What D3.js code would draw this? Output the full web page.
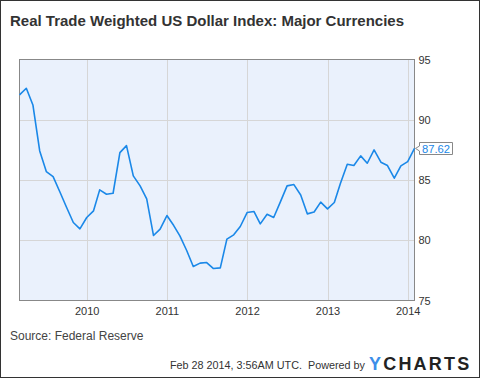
<!DOCTYPE html>
<html><head><meta charset="utf-8">
<script src="https://cdn.jsdelivr.net/npm/d3@7"></script>
<style>
html,body{margin:0;padding:0;background:#fff;}
svg{display:block;}
</style></head>
<body>
<script>
const months = ["2009-03","2009-04","2009-05","2009-06","2009-07","2009-08","2009-09","2009-10","2009-11","2009-12",
"2010-01","2010-02","2010-03","2010-04","2010-05","2010-06","2010-07","2010-08","2010-09","2010-10","2010-11","2010-12",
"2011-01","2011-02","2011-03","2011-04","2011-05","2011-06","2011-07","2011-08","2011-09","2011-10","2011-11","2011-12",
"2012-01","2012-02","2012-03","2012-04","2012-05","2012-06","2012-07","2012-08","2012-09","2012-10","2012-11","2012-12",
"2013-01","2013-02","2013-03","2013-04","2013-05","2013-06","2013-07","2013-08","2013-09","2013-10","2013-11","2013-12",
"2014-01","2014-02"];
const values = [92.06,92.61,91.23,87.41,85.70,85.28,84.00,82.74,81.47,80.95,
81.89,82.44,84.18,83.82,83.90,87.27,87.85,85.34,84.51,83.43,80.39,80.92,
82.05,81.22,80.36,79.15,77.82,78.10,78.15,77.65,77.71,80.09,80.45,81.14,
82.30,82.39,81.36,82.16,81.89,83.21,84.51,84.62,83.76,82.19,82.35,83.16,
82.60,83.13,84.73,86.31,86.20,87.00,86.39,87.50,86.48,86.20,85.15,86.17,
86.53,87.62];
const yTicks = [75,80,85,90,95];
const xTickYears = [2010,2011,2012,2013,2014];
const lastLabel = "87.62";
const title = "Real Trade Weighted US Dollar Index: Major Currencies";
const source = "Source: Federal Reserve";
const stamp = "Feb 28 2014, 3:56AM UTC.  Powered by";

const W=480,H=378;
const L=19.5,R=414.5,T=59.5,B=300.5;
const parse=d3.timeParse("%Y-%m");
const data=months.map((m,i)=>({d:parse(m),v:values[i]}));

const svg=d3.select("body").append("svg").attr("width",W).attr("height",H);
svg.append("rect").attr("x",0.5).attr("y",0.5).attr("width",W-1).attr("height",H-1)
  .attr("fill","#fff").attr("stroke","#333");

const x=d3.scaleTime().domain([data[0].d,data[data.length-1].d]).range([L,R]);
const y=d3.scaleLinear().domain([75,95]).range([B,T]);

svg.append("rect").attr("x",L).attr("y",T).attr("width",R-L).attr("height",B-T).attr("fill","#eaf1fc");

const g=svg.append("g");
g.selectAll(".vg").data(xTickYears).join("line")
  .attr("x1",d=>Math.round(x(new Date(d,0,1)))+0.5).attr("x2",d=>Math.round(x(new Date(d,0,1)))+0.5)
  .attr("y1",T).attr("y2",B).attr("stroke","#d6d6d6");
g.selectAll(".hg").data(yTicks.slice(1,-1)).join("line")
  .attr("x1",L).attr("x2",R).attr("y1",d=>Math.round(y(d))+0.5).attr("y2",d=>Math.round(y(d))+0.5)
  .attr("stroke","#d6d6d6");

svg.append("rect").attr("x",L).attr("y",T).attr("width",R-L).attr("height",B-T)
  .attr("fill","none").attr("stroke","#888");

const line=d3.line().x(d=>x(d.d)).y(d=>y(d.v));
svg.append("path").datum(data).attr("d",line).attr("fill","none")
  .attr("stroke","#1a88e8").attr("stroke-width",1.6).attr("stroke-linejoin","round");

const font="Liberation Sans, Arial, sans-serif";
const yAxis=d3.axisRight(y).tickValues(yTicks).tickSize(0).tickPadding(4).tickFormat(d3.format("d"));
const ya=svg.append("g").attr("transform",`translate(${R},0)`).call(yAxis);
ya.select(".domain").remove();
ya.selectAll("text").attr("font-family",font).attr("font-size",11).attr("fill","#333");

const xAxis=d3.axisBottom(x).tickValues(xTickYears.map(d=>new Date(d,0,1))).tickSize(0).tickPadding(7).tickFormat(d3.timeFormat("%Y"));
const xa=svg.append("g").attr("transform",`translate(0,${B})`).call(xAxis);
xa.select(".domain").remove();
xa.selectAll("text").attr("font-family",font).attr("font-size",11).attr("fill","#333");

const last=data[data.length-1];
const ly=y(last.v);
const bx=419.5, bw=33, bh=12;
svg.append("path")
  .attr("d",`M${bx},${Math.round(ly)-5.5} L${bx+bw},${Math.round(ly)-5.5} L${bx+bw},${Math.round(ly)+bh-5.5} L${bx},${Math.round(ly)+bh-5.5} L${bx},${Math.round(ly)+3} L${bx-4},${ly} L${bx},${Math.round(ly)-2} Z`)
  .attr("fill","#fff").attr("stroke","#888");
svg.append("text").attr("x",bx+bw/2).attr("y",Math.round(ly)+4.5).attr("text-anchor","middle")
  .attr("font-family",font).attr("font-size",11.2).attr("fill","#1a88e8").text(lastLabel);

svg.append("text").attr("x",10).attr("y",26).attr("font-family",font).attr("font-weight","bold")
  .attr("font-size",15).attr("fill","#333").text(title);
svg.append("text").attr("x",10).attr("y",340).attr("font-family",font)
  .attr("font-size",12).attr("fill","#444").text(source);
svg.append("text").attr("x",365).attr("y",369).attr("text-anchor","end").attr("font-family",font)
  .attr("font-size",10.8).attr("fill","#333").attr("xml:space","preserve").text(stamp);
const logo=svg.append("text").attr("x",369).attr("y",370).attr("font-family",font)
  .attr("font-weight","bold").attr("font-size",18).attr("letter-spacing",2.2);
logo.append("tspan").attr("fill","#3d8ee9").text("Y");
logo.append("tspan").attr("fill","#222").text("CHARTS");
</script>
</body></html>
